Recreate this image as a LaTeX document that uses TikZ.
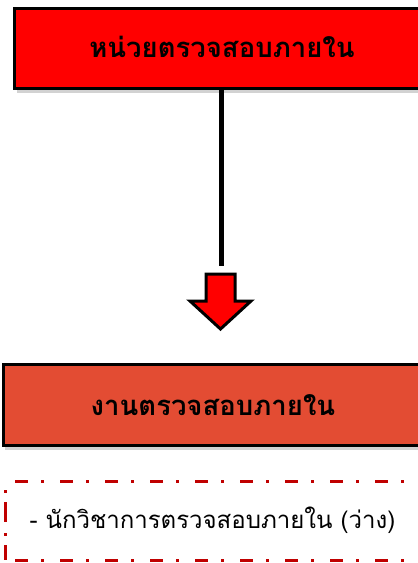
\documentclass[tikz,border=0pt]{standalone}
\usepackage{fontspec}
\newfontfamily\thaifont[Script=Thai]{Loma}
\usetikzlibrary{shadows}
\definecolor{topred}{HTML}{FF0000}
\definecolor{midred}{HTML}{E34C33}
\definecolor{dashred}{HTML}{C00000}
\tikzset{
  boxstyle/.style={draw=black, line width=3pt, drop shadow={shadow xshift=2pt, shadow yshift=-4pt, opacity=0.35}},
  labeltext/.style={font=\thaifont\bfseries\fontsize{27.5}{32}\selectfont, text=black},
  dashline/.style={dashred, line width=3pt, dash pattern=on 13pt off 13pt on 3pt off 16pt},
}
\begin{document}
\begin{tikzpicture}[x=1pt,y=-1pt]
\useasboundingbox (0,0) rectangle (418,563);
\fill[white] (0,0) rectangle (418,563);
% top box
\path[boxstyle, fill=topred] (14.5,8) rectangle (440,88.5);
\node[labeltext] (top) at (222,47) {หน่วยตรวจสอบภายใน};
\coordinate (topb) at (221,88.5);
\coordinate (lineend) at (221,266);
\draw[line width=5pt] (topb) -- (lineend);
% block arrow
\draw[line width=3pt, fill=topred, line join=miter] (206,274) -- (235,274) -- (235,301) -- (251,301) -- (220.5,329) -- (190,301) -- (206,301) -- cycle;
% middle box
\path[boxstyle, fill=midred] (3,364.5) rectangle (440,445.5);
\node[labeltext] (mid) at (213,405) {งานตรวจสอบภายใน};
% dashed box
\coordinate (dtl) at (5,481);
\coordinate (dtr) at (430,481);
\coordinate (dbl) at (5,560);
\coordinate (dbr) at (430,560);
\draw[dashline] (dtl) ++(10,0) -- (dtr);
\draw[dashline] (dbl) ++(10,0) -- (dbr);
\draw[dashline, dash pattern=on 3pt off 9pt on 20pt off 11pt] (dtl) ++(0,9) -- (dbl);
\node[font=\thaifont\fontsize{24}{28}\selectfont, anchor=west] (staff) at (26,520) {- นักวิชาการตรวจสอบภายใน (ว่าง)};
\end{tikzpicture}
\end{document}
